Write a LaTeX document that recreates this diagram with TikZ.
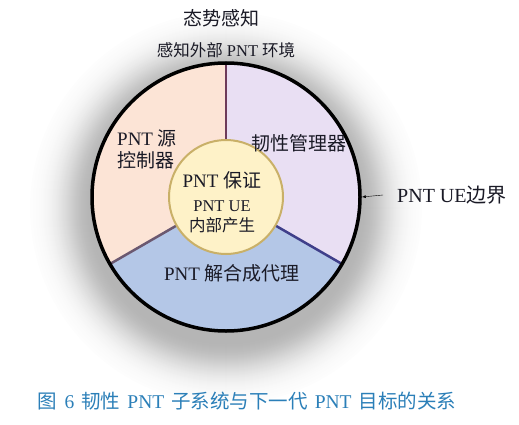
\documentclass[tikz,border=0pt]{standalone}
\usepackage{fontspec}
\setmainfont{Liberation Serif}
\newfontfamily\cjk{Noto Sans CJK SC}
\newcommand{\zh}[1]{{\cjk #1}}
\definecolor{peach}{HTML}{FCE4D6}
\definecolor{lilac}{HTML}{E9DFF3}
\definecolor{ublue}{HTML}{B4C7E7}
\definecolor{cream}{HTML}{FEF2C8}
\definecolor{gold}{HTML}{C9B068}
\definecolor{capblue}{HTML}{2B7FB8}
\definecolor{ink}{HTML}{1A1A26}
\begin{document}
\begin{tikzpicture}[x=1pt, y=1pt, >=latex,
  label/.style={text=ink, inner sep=0pt, font=\fontsize{19}{22}\selectfont},
  small/.style={text=ink, inner sep=0pt, font=\fontsize{16.5}{20}\selectfont}]
\useasboundingbox (0,0) rectangle (519,424);
\coordinate (o) at (226,227);
% soft shadow round the rim
\foreach \r in {196,195,...,134}{
  \pgfmathsetmacro\g{29*exp(-((\r-134)/32)^2)}
  \fill[black!\g] (226,216) circle (\r);
}
% three parts
\foreach \a/\c in {90/peach,210/ublue,330/lilac}
  \fill[\c] (o) -- ++(\a:134) arc (\a:\a+120:134) -- cycle;
\draw[line width=2.5pt, color={rgb,255:red,110;green,59;blue,90}] (o) -- ++(90:134);
\draw[line width=2.5pt, color={rgb,255:red,107;green,88;blue,112}] (o) -- ++(210:134);
\draw[line width=2.5pt, color={rgb,255:red,63;green,63;blue,138}] (o) -- ++(330:134);
\node[circle, draw, line width=3.5pt, minimum size=268pt, inner sep=0pt] (rim) at (o) {};
\node[circle, draw=gold, fill=cream, line width=2pt, minimum size=114pt, inner sep=0pt] (core) at (o) {};
% texts
\node[label] (sa) at (221,406) {\zh{态势感知}};
\node[small] (env) at (226,374) {\zh{感知外部} PNT \zh{环境}};
\node[label, align=left, anchor=west] (src) at (117,275) {PNT \zh{源}\\\zh{控制器}};
\node[label] (rm) at (299,281) {\zh{韧性管理器}};
\node[label] (pa) at (222,244) {PNT \zh{保证}};
\node[small, align=center] (gen) at (222,207) {PNT UE\\\zh{内部产生}};
\node[label] (agent) at (232,151) {PNT \zh{解合成代理}};
\node[label, anchor=west, font=\fontsize{20}{22}\selectfont] (ue) at (397,229) {PNT UE\zh{边界}};
\draw[->, thin] (ue.west) ++(-14,0) coordinate (ua) -- (rim.east);
\node[label, anchor=west, text=capblue, font=\fontsize{19.5}{22}\selectfont] (cap) at (37,23)
  {\zh{图}\hspace{8pt}6\hspace{7pt}\zh{韧性}\hspace{7pt}PNT\hspace{7pt}\zh{子系统与下一代}\hspace{7pt}PNT\hspace{7pt}\zh{目标的关系}};
\end{tikzpicture}
\end{document}
